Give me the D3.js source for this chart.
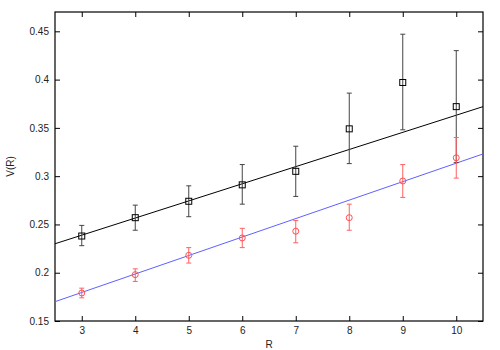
<!DOCTYPE html>
<html>
<head>
<meta charset="utf-8">
<script src="https://cdn.jsdelivr.net/npm/d3@7"></script>
<style>
  body { margin: 0; background: #fff; }
  svg { display: block; font-family: "Liberation Sans", Arial, sans-serif; }
</style>
</head>
<body>
<svg id="chart" width="500" height="350"></svg>
<script>
// data
const rValues = [3, 4, 5, 6, 7, 8, 9, 10];
const blackV = [0.238, 0.257, 0.274, 0.291, 0.305, 0.349, 0.397, 0.372];
const blackLo = [0.228, 0.244, 0.258, 0.271, 0.279, 0.313, 0.348, 0.314];
const blackHi = [0.249, 0.270, 0.290, 0.312, 0.331, 0.386, 0.447, 0.430];
const redV = [0.179, 0.198, 0.218, 0.236, 0.243, 0.257, 0.295, 0.319];
const redLo = [0.174, 0.191, 0.210, 0.226, 0.231, 0.244, 0.278, 0.298];
const redHi = [0.184, 0.204, 0.226, 0.246, 0.254, 0.271, 0.312, 0.340];
// fit lines, end points
const fitR = [2.5, 10.5];
const blackFit = [0.230, 0.372];
const blueFit = [0.170, 0.323];
const xTicks = [3, 4, 5, 6, 7, 8, 9, 10];
const yTicks = [0.15, 0.2, 0.25, 0.3, 0.35, 0.4, 0.45];

const svg = d3.select('#chart');
const margin = { top: 12, right: 17, bottom: 29, left: 55 };
const width = 500 - margin.left - margin.right;
const height = 350 - margin.top - margin.bottom;

const g = svg.append('g').attr('transform', `translate(${margin.left},${margin.top})`);

const x = d3.scaleLinear().domain([2.5, 10.5]).range([0, width]);
const y = d3.scaleLinear().domain([0.15, 0.47]).range([height, 0]);

const fmt = d => String(+d.toFixed(2));

// axes, ticks pointing inward and mirrored
const styleAxis = sel => {
  sel.select('.domain').remove();
  sel.selectAll('line').attr('stroke', '#000').attr('stroke-width', 1);
  sel.selectAll('text').attr('font-size', 10).attr('fill', '#222')
    .attr('font-family', '"Liberation Sans", Arial, sans-serif');
};

g.append('g').attr('transform', `translate(0,${height})`)
  .call(d3.axisBottom(x).tickValues(xTicks).tickSize(-5).tickPadding(6).tickFormat(d3.format('d')))
  .call(styleAxis);
g.append('g')
  .call(d3.axisTop(x).tickValues(xTicks).tickSize(-5).tickFormat(''))
  .call(styleAxis);
g.append('g')
  .call(d3.axisLeft(y).tickValues(yTicks).tickSize(-5).tickPadding(6).tickFormat(fmt))
  .call(styleAxis);
g.append('g').attr('transform', `translate(${width},0)`)
  .call(d3.axisRight(y).tickValues(yTicks).tickSize(-5).tickFormat(''))
  .call(styleAxis);

g.append('rect')
  .attr('width', width).attr('height', height)
  .attr('fill', 'none').attr('stroke', '#000').attr('stroke-width', 1.2);

// fit lines
const clip = svg.append('defs').append('clipPath').attr('id', 'clip')
  .append('rect').attr('width', width).attr('height', height);

const fitLine = (vals, color) => {
  g.append('path')
    .datum(fitR.map((r, i) => [r, vals[i]]))
    .attr('clip-path', 'url(#clip)')
    .attr('fill', 'none')
    .attr('stroke', color)
    .attr('stroke-width', 1)
    .attr('d', d3.line().x(d => x(d[0])).y(d => y(d[1])));
};
fitLine(blackFit, '#000');
fitLine(blueFit, '#6060ff');

// error bars
const errorBars = (lo, hi, color) => {
  const eg = g.append('g').attr('stroke', color).attr('stroke-width', 1).attr('fill', 'none');
  rValues.forEach((r, i) => {
    const cx = x(r);
    eg.append('line').attr('x1', cx).attr('x2', cx).attr('y1', y(lo[i])).attr('y2', y(hi[i]));
    eg.append('line').attr('x1', cx - 2.5).attr('x2', cx + 2.5).attr('y1', y(lo[i])).attr('y2', y(lo[i]));
    eg.append('line').attr('x1', cx - 2.5).attr('x2', cx + 2.5).attr('y1', y(hi[i])).attr('y2', y(hi[i]));
  });
};
errorBars(blackLo, blackHi, '#444');
errorBars(redLo, redHi, '#ff6060');

// markers
g.append('g').selectAll('rect')
  .data(rValues)
  .join('rect')
  .attr('x', (d) => x(d) - 3)
  .attr('y', (d, i) => y(blackV[i]) - 3)
  .attr('width', 6).attr('height', 6)
  .attr('fill', 'none').attr('stroke', '#000').attr('stroke-width', 1);

g.append('g').selectAll('circle')
  .data(rValues)
  .join('circle')
  .attr('cx', d => x(d))
  .attr('cy', (d, i) => y(redV[i]))
  .attr('r', 3)
  .attr('fill', 'none').attr('stroke', '#ff5050').attr('stroke-width', 1);

// axis titles
svg.append('text')
  .attr('x', margin.left + width / 2).attr('y', 348)
  .attr('text-anchor', 'middle').attr('font-size', 10).attr('fill', '#222')
  .text('R');
svg.append('text')
  .attr('transform', `translate(14,${margin.top + height / 2}) rotate(-90)`)
  .attr('text-anchor', 'middle').attr('font-size', 10).attr('fill', '#222')
  .text('V(R)');
</script>
</body>
</html>
